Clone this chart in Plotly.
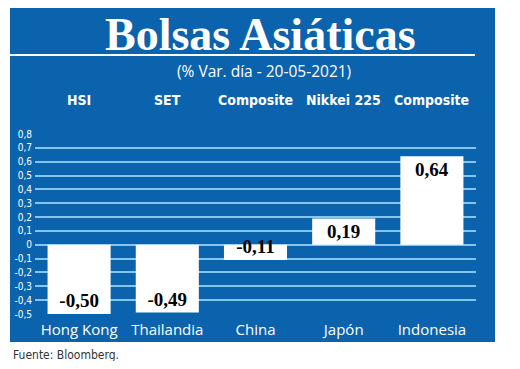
import plotly.graph_objects as go

countries = ["Hong Kong", "Thailandia", "China", "Japón", "Indonesia"]
indices = ["HSI", "SET", "Composite", "Nikkei 225", "Composite"]
values = [-0.50, -0.49, -0.11, 0.19, 0.64]
tick_vals = [0.8, 0.7, 0.6, 0.5, 0.4, 0.3, 0.2, 0.1, 0, -0.1, -0.2, -0.3, -0.4, -0.5]
tick_text = ["0,8", "0,7", "0,6", "0,5", "0,4", "0,3", "0,2", "0,1", "0",
             "-0,1", "-0,2", "-0,3", "-0,4", "-0,5"]

BLUE = "#0b63ad"
GRID = "#86c6ee"
OFF = 8  # page body margin
W, H = 520 - 2 * OFF, 369 - 2 * OFF
# plot area in page pixels: x 35..476, y 134..314
L = 35 - OFF
R = W - (476 - OFF)
T = 134 - OFF
B = H - (314 - OFF)
pw, ph = W - L - R, H - T - B

def px(x):
    return (x - OFF - L) / pw

def py(y):
    return (H - B - (y - OFF)) / ph

COND = "DejaVu Sans Condensed, Liberation Sans Narrow, Roboto, sans-serif"

fig = go.Figure()
fig.add_trace(go.Bar(
    x=countries, y=values,
    marker=dict(color="white", line=dict(width=0)),
    texttemplate="%{y:.2f}",
    textposition="inside", insidetextanchor="end", constraintext="none",
    textfont=dict(family="Liberation Serif", size=19, color="black", weight="bold"),
    textangle=0,
    cliponaxis=False,
))

shapes = [
    dict(type="rect", xref="paper", yref="paper", x0=px(10), x1=px(495), y0=py(342), y1=py(7),
         fillcolor=BLUE, line=dict(width=0), layer="below"),
    dict(type="line", xref="paper", yref="paper", x0=px(10), x1=px(475), y0=py(55), y1=py(55),
         line=dict(color="white", width=2)),
]

annotations = [
    dict(text="<b>Bolsas Asiáticas</b>", xref="paper", yref="paper", x=px(260), y=py(34),
         showarrow=False, font=dict(family="Liberation Serif", size=46, color="white"),
         xanchor="center", yanchor="middle"),
    dict(text="(% Var. día - 20-05-2021)", xref="paper", yref="paper", x=px(264), y=py(71),
         showarrow=False, font=dict(family="Open Sans", size=15.5, color="white"),
         xanchor="center", yanchor="middle"),
    dict(text="Fuente: Bloomberg.", xref="paper", yref="paper", x=px(11), y=py(355),
         showarrow=False, font=dict(family=COND, size=12, color="#333333"),
         xanchor="left", yanchor="middle"),
]
for c, name in zip(countries, indices):
    annotations.append(dict(text="<b>" + name + "</b>", xref="x", yref="paper", x=c, y=py(100),
                            showarrow=False,
                            font=dict(family=COND, size=14, color="white"),
                            xanchor="center", yanchor="middle"))

fig.update_layout(
    width=W, height=H,
    margin=dict(l=L, r=R, t=T, b=B, autoexpand=False),
    paper_bgcolor="white", plot_bgcolor=BLUE,
    separators=",.",
    bargap=0.285,
    showlegend=False,
    shapes=shapes, annotations=annotations,
    xaxis=dict(showgrid=False, showline=False, ticks="", zeroline=False,
               tickfont=dict(family="Open Sans", size=15, color="white"),
               ticklabelstandoff=5),
    yaxis=dict(range=[-0.5, 0.8], tickvals=tick_vals, ticktext=tick_text,
               showgrid=True, gridcolor=GRID, gridwidth=1.5,
               zeroline=True, zerolinecolor=GRID, zerolinewidth=1.5,
               tickfont=dict(family=COND, size=10, color="white"),
               ticks="", ticklabelstandoff=2),
)

fig.write_html("out.html")
